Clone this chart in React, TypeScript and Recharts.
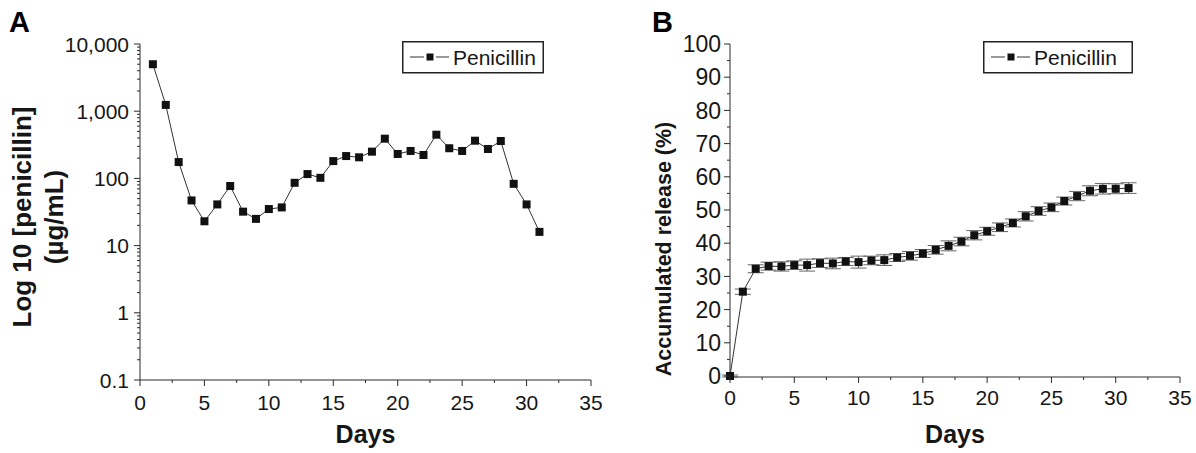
import React from "react";
import { LineChart, Line, XAxis, YAxis, ErrorBar } from "recharts";

const FONT = '"Liberation Sans", Arial, Helvetica, sans-serif';

// Panel A – penicillin concentration (log scale)
const daysA = [1, 2, 3, 4, 5, 6, 7, 8, 9, 10, 11, 12, 13, 14, 15, 16, 17, 18, 19, 20, 21, 22, 23, 24, 25, 26, 27, 28, 29, 30, 31];
const concA = [5000, 1240, 175, 47, 23, 41, 77, 32, 25, 35, 37, 86, 116, 102, 181, 215, 206, 250, 390, 231, 256, 223, 447, 281, 256, 364, 274, 360, 83, 41, 16];

// Panel B – accumulated release (%)
const daysB = [0, 1, 2, 3, 4, 5, 6, 7, 8, 9, 10, 11, 12, 13, 14, 15, 16, 17, 18, 19, 20, 21, 22, 23, 24, 25, 26, 27, 28, 29, 30, 31];
const releaseB = [0, 25.4, 32.3, 33.1, 33.0, 33.4, 33.4, 34.0, 33.9, 34.5, 34.3, 34.8, 34.9, 35.7, 36.2, 36.9, 38.0, 39.2, 40.5, 42.4, 43.6, 44.8, 46.1, 48.1, 49.7, 50.8, 52.7, 54.2, 55.8, 56.4, 56.4, 56.6];
const errB = [0.3, 0.8, 1.2, 1.2, 1.4, 1.3, 1.8, 1.3, 1.6, 1.2, 1.8, 1.3, 1.6, 1.2, 1.3, 1.2, 1.3, 1.5, 1.3, 1.4, 1.2, 1.3, 1.2, 1.4, 1.3, 1.3, 1.2, 1.4, 1.5, 1.6, 1.5, 1.6];

// ticks
const xMajor = [0, 5, 10, 15, 20, 25, 30, 35];
const xMinor = [2.5, 7.5, 12.5, 17.5, 22.5, 27.5, 32.5];
const logMajor = [0.1, 1, 10, 100, 1000, 10000];
const logMajorLabels = ["0.1", "1", "10", "100", "1,000", "10,000"];
const logMinorMult = [2, 3, 4, 5, 6, 7, 8, 9];
const logMinor = logMajor.slice(0, -1).flatMap((d) => logMinorMult.map((m) => d * m));
const pctMajor = [0, 10, 20, 30, 40, 50, 60, 70, 80, 90, 100];
const pctMinor = [5, 15, 25, 35, 45, 55, 65, 75, 85, 95];

const dataA = daysA.map((d, i) => ({ day: d, value: concA[i] }));
const dataB = daysB.map((d, i) => ({ day: d, value: releaseB[i], err: errB[i] }));

const AXIS = "#2a2a2a";
const TEXT = "#161616";

const makeXTick = (gap: number) => (p: any) => {
  const { x, y, payload } = p;
  const major = xMajor.includes(payload.value);
  return (
    <g key={`xt-${payload.value}`}>
      <line x1={x} x2={x} y1={y} y2={y + (major ? 6 : 3)} stroke={AXIS} strokeWidth={1} />
      {major && (
        <text x={x} y={y + gap} dy="0.71em" textAnchor="middle" fontSize={21} fontFamily={FONT} fill={TEXT}>
          {payload.value}
        </text>
      )}
    </g>
  );
};

const makeYTick = (majors: number[], labels: string[] | null, gap: number, fontSize: number) => (p: any) => {
  const { x, y, payload } = p;
  const idx = majors.indexOf(payload.value);
  const major = idx >= 0;
  return (
    <g key={`yt-${payload.value}`}>
      <line x1={x} x2={x - (major ? 6 : 3)} y1={y} y2={y} stroke={AXIS} strokeWidth={1} />
      {major && (
        <text x={x - gap} y={y} dy="0.36em" textAnchor="end" fontSize={fontSize} fontFamily={FONT} fill={TEXT}>
          {labels ? labels[idx] : payload.value}
        </text>
      )}
    </g>
  );
};

const square = (size: number) => (p: any) => {
  const { cx, cy, index } = p;
  if (cx == null || cy == null) return <g key={`sq-${index}`} />;
  return <rect key={`sq-${index}`} x={cx - size / 2} y={cy - size / 2} width={size} height={size} fill="#111" />;
};

const yLabelA = () => (
  <g fontFamily={FONT} fontWeight="bold" fontSize={26} fill={TEXT}>
    <text transform="translate(31,217) rotate(-90)" textAnchor="middle">
      Log 10 [penicillin]
    </text>
    <text transform="translate(63,217) rotate(-90)" textAnchor="middle">
      (µg/mL)
    </text>
  </g>
);

const yLabelB = () => (
  <g fontFamily={FONT} fontWeight="bold" fontSize={21.5} fill={TEXT}>
    <text transform="translate(71,249) rotate(-90)" textAnchor="middle">
      Accumulated release (%)
    </text>
  </g>
);

const LegendBox = ({ left, top, width }: { left: number; top: number; width: number }) => (
  <svg style={{ position: "absolute", left, top }} width={width} height={33}>
    <rect x={0.75} y={0.75} width={width - 1.5} height={31} fill="#fff" stroke="#222" strokeWidth={1.5} />
    <line x1={8} x2={22} y1={16} y2={16} stroke="#555" strokeWidth={1.2} />
    <rect x={24.5} y={12.5} width={7} height={7} fill="#111" />
    <line x1={34} x2={47} y1={16} y2={16} stroke="#555" strokeWidth={1.2} />
    <text x={51} y={16} dy="0.36em" fontSize={21} fontFamily={FONT} fill={TEXT}>
      Penicillin
    </text>
  </svg>
);

const panelLetter = (txt: string, left: number) => (
  <div
    style={{
      position: "absolute",
      left,
      top: 6,
      fontFamily: FONT,
      fontWeight: "bold",
      fontSize: 29,
      lineHeight: "32px",
      color: "#000",
    }}
  >
    {txt}
  </div>
);

const daysLabel = {
  value: "Days",
  position: "insideBottom" as const,
  offset: 10,
  fill: TEXT,
  fontSize: 25,
  fontWeight: "bold",
  fontFamily: FONT,
};

export default function App() {
  return (
    <div style={{ position: "absolute", left: 0, top: 0, width: 1196, height: 453, background: "#fff" }}>
      <div style={{ position: "absolute", left: 0, top: 0 }}>
        <LineChart width={620} height={453} data={dataA} margin={{ top: 44, right: 29, bottom: 0, left: 0 }}>
          <XAxis
            type="number"
            dataKey="day"
            domain={[0, 35]}
            ticks={[...xMajor, ...xMinor]}
            interval={0}
            tickSize={0}
            tickMargin={0}
            tickLine={false}
            axisLine={{ stroke: AXIS }}
            height={73}
            tick={makeXTick(15)}
            label={daysLabel}
          />
          <YAxis
            scale="log"
            domain={[0.1, 10000]}
            ticks={[...logMajor, ...logMinor]}
            interval={0}
            allowDataOverflow
            tickSize={0}
            tickMargin={0}
            tickLine={false}
            axisLine={{ stroke: AXIS }}
            width={140}
            tick={makeYTick(logMajor, logMajorLabels, 11, 21)}
            label={yLabelA}
          />
          <Line
            type="linear"
            dataKey="value"
            stroke="#333"
            strokeWidth={1}
            dot={square(8)}
            activeDot={false}
            isAnimationActive={false}
          />
        </LineChart>
      </div>
      <div style={{ position: "absolute", left: 600, top: 0 }}>
        <LineChart width={596} height={453} data={dataB} margin={{ top: 44, right: 16, bottom: 0, left: 0 }}>
          <XAxis
            type="number"
            dataKey="day"
            domain={[0, 35]}
            ticks={[...xMajor, ...xMinor]}
            interval={0}
            tickSize={0}
            tickMargin={0}
            tickLine={false}
            axisLine={{ stroke: AXIS }}
            height={76}
            tick={makeXTick(13)}
            label={daysLabel}
          />
          <YAxis
            type="number"
            domain={[0, 100]}
            ticks={[...pctMajor, ...pctMinor]}
            interval={0}
            tickSize={0}
            tickMargin={0}
            tickLine={false}
            axisLine={{ stroke: AXIS }}
            width={130}
            tick={makeYTick(pctMajor, null, 9, 23)}
            label={yLabelB}
          />
          <Line
            type="linear"
            dataKey="value"
            stroke="#333"
            strokeWidth={1}
            dot={square(8)}
            activeDot={false}
            isAnimationActive={false}
          >
            <ErrorBar dataKey="err" width={8} stroke="#666" strokeWidth={1} direction="y" isAnimationActive={false} />
          </Line>
        </LineChart>
      </div>
      {panelLetter("A", 9)}
      {panelLetter("B", 652)}
      <LegendBox left={402} top={41} width={142} />
      <LegendBox left={983} top={41} width={150} />
    </div>
  );
}
